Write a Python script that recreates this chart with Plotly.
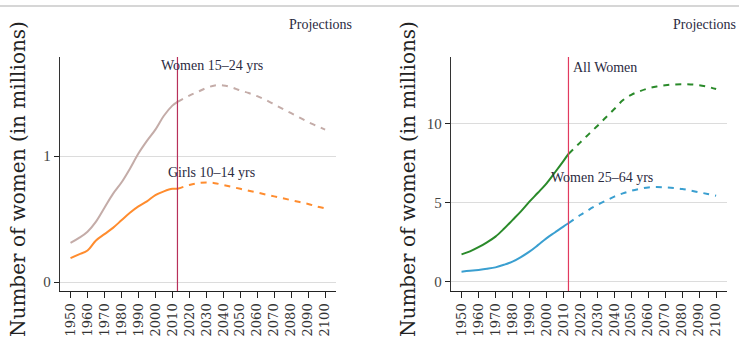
import plotly.graph_objects as go

# ---------------- data ----------------
PROJ_START = 2013
hist_years = [1950, 1955, 1960, 1965, 1970, 1975, 1980, 1985, 1990, 1995, 2000, 2005, 2010, 2013]
proj_years = [2013, 2020, 2025, 2030, 2035, 2040, 2045, 2050, 2055, 2060, 2065, 2070, 2075, 2080, 2085, 2090, 2095, 2100]

women_15_24_hist = [0.31, 0.35, 0.40, 0.48, 0.59, 0.70, 0.79, 0.90, 1.02, 1.12, 1.21, 1.32, 1.40, 1.43]
women_15_24_proj = [1.43, 1.48, 1.51, 1.54, 1.56, 1.56, 1.545, 1.52, 1.50, 1.475, 1.445, 1.41, 1.375, 1.34, 1.305, 1.27, 1.24, 1.21]

girls_10_14_hist = [0.19, 0.22, 0.25, 0.33, 0.38, 0.43, 0.49, 0.55, 0.60, 0.64, 0.69, 0.72, 0.74, 0.74]
girls_10_14_proj = [0.74, 0.77, 0.785, 0.79, 0.785, 0.77, 0.755, 0.74, 0.725, 0.71, 0.695, 0.68, 0.665, 0.65, 0.635, 0.62, 0.60, 0.585]

all_women_hist = [1.74, 1.93, 2.19, 2.50, 2.86, 3.35, 3.90, 4.45, 5.06, 5.62, 6.20, 6.90, 7.62, 8.07]
all_women_proj = [8.07, 8.80, 9.32, 9.83, 10.37, 10.90, 11.45, 11.80, 12.02, 12.20, 12.32, 12.40, 12.45, 12.46, 12.45, 12.40, 12.30, 12.16]

women_25_64_hist = [0.65, 0.70, 0.76, 0.83, 0.92, 1.08, 1.28, 1.57, 1.91, 2.32, 2.75, 3.12, 3.49, 3.70]
women_25_64_proj = [3.70, 4.22, 4.55, 4.85, 5.12, 5.38, 5.58, 5.75, 5.87, 5.96, 5.98, 5.96, 5.92, 5.86, 5.76, 5.65, 5.55, 5.44]

x_ticks = list(range(1950, 2101, 10))
left_yticks = [0, 1]
right_yticks = [0, 5, 10]

# ---------------- styling ----------------
C_W1524 = "#c4aca8"
C_GIRLS = "#ff8c2e"
C_ALL = "#2a8a2a"
C_W2564 = "#3a9fd0"
C_VLINE_L = "#b8305a"
C_VLINE_R = "#e23a5e"
TXT = "#2b2b3f"
SERIF = "Liberation Serif"

fig = go.Figure()

def add_pair(hx, hy, px, py, color, xa, ya):
    fig.add_trace(go.Scatter(x=hx, y=hy, mode="lines", line=dict(color=color, width=2, shape="spline"),
                             xaxis=xa, yaxis=ya, showlegend=False, hoverinfo="skip"))
    fig.add_trace(go.Scatter(x=px, y=py, mode="lines", line=dict(color=color, width=2, dash="6px,6px", shape="spline"),
                             xaxis=xa, yaxis=ya, showlegend=False, hoverinfo="skip"))

add_pair(hist_years, women_15_24_hist, proj_years, women_15_24_proj, C_W1524, "x", "y")
add_pair(hist_years, girls_10_14_hist, proj_years, girls_10_14_proj, C_GIRLS, "x", "y")
add_pair(hist_years, all_women_hist, proj_years, all_women_proj, C_ALL, "x2", "y2")
add_pair(hist_years, women_25_64_hist, proj_years, women_25_64_proj, C_W2564, "x2", "y2")

W, H = 739, 338
ydom = [1 - 291 / H, 1 - 57 / H]
xcommon = dict(range=[1943.8, 2106.4], tickmode="array", tickvals=x_ticks, ticktext=[str(v) for v in x_ticks],
               tickangle=-90, ticks="outside", ticklen=6, tickcolor="#222", showline=True, linecolor="#222",
               linewidth=1.3, showgrid=False, zeroline=False,
               tickfont=dict(family="DejaVu Serif", size=13, color="#333"))
ycommon = dict(ticks="outside", ticklen=5, tickcolor="#222", showline=True, linecolor="#333", linewidth=1.3,
               showgrid=True, gridcolor="#dcdcdc", gridwidth=1, zeroline=False,
               tickfont=dict(family=SERIF, size=15, color="#444"))

fig.update_layout(
    width=W, height=H, margin=dict(l=0, r=0, t=0, b=0),
    paper_bgcolor="white", plot_bgcolor="white",
    xaxis=dict(domain=[60 / W, 336 / W], anchor="y", **xcommon),
    yaxis=dict(domain=ydom, anchor="x", range=[-0.071, 1.786], tickvals=left_yticks, **ycommon),
    xaxis2=dict(domain=[451 / W, 727 / W], anchor="y2", **xcommon),
    yaxis2=dict(domain=ydom, anchor="x2", range=[-0.57, 14.18], tickvals=right_yticks, **ycommon),
)

# projection start lines
fig.add_shape(type="line", xref="x", yref="y domain", x0=PROJ_START, x1=PROJ_START, y0=0, y1=1,
              line=dict(color=C_VLINE_L, width=1.2))
fig.add_shape(type="line", xref="x2", yref="y2 domain", x0=PROJ_START, x1=PROJ_START, y0=0, y1=1,
              line=dict(color=C_VLINE_R, width=1.2))
# top border line
fig.add_shape(type="line", xref="paper", yref="paper", x0=0, x1=1, y0=1 - 6 / H, y1=1 - 6 / H,
              line=dict(color="#d6d6d6", width=2))

def ann(text, x, y, xanchor="center", size=14, family=SERIF, angle=0, color=TXT):
    fig.add_annotation(text=text, x=x / W, y=1 - y / H, xref="paper", yref="paper", showarrow=False,
                       xanchor=xanchor, yanchor="middle", textangle=angle,
                       font=dict(family=family, size=size, color=color))

ann("Projections", 287, 24, "left")
ann("Projections", 738, 24, "right")
ann("Women 15–24 yrs", 212, 65)
ann("Girls 10–14 yrs", 212, 172)
ann("All Women", 571, 67, "left")
ann("Women 25–64 yrs", 602, 177)
ann("Number of women (in millions)", 18, 179, size=20, family="DejaVu Serif", angle=-90, color="#222")
ann("Number of women (in millions)", 408, 179, size=20, family="DejaVu Serif", angle=-90, color="#222")

fig.write_html("out.html", post_script="document.body.style.margin='0px';",
               config={"displayModeBar": False})
